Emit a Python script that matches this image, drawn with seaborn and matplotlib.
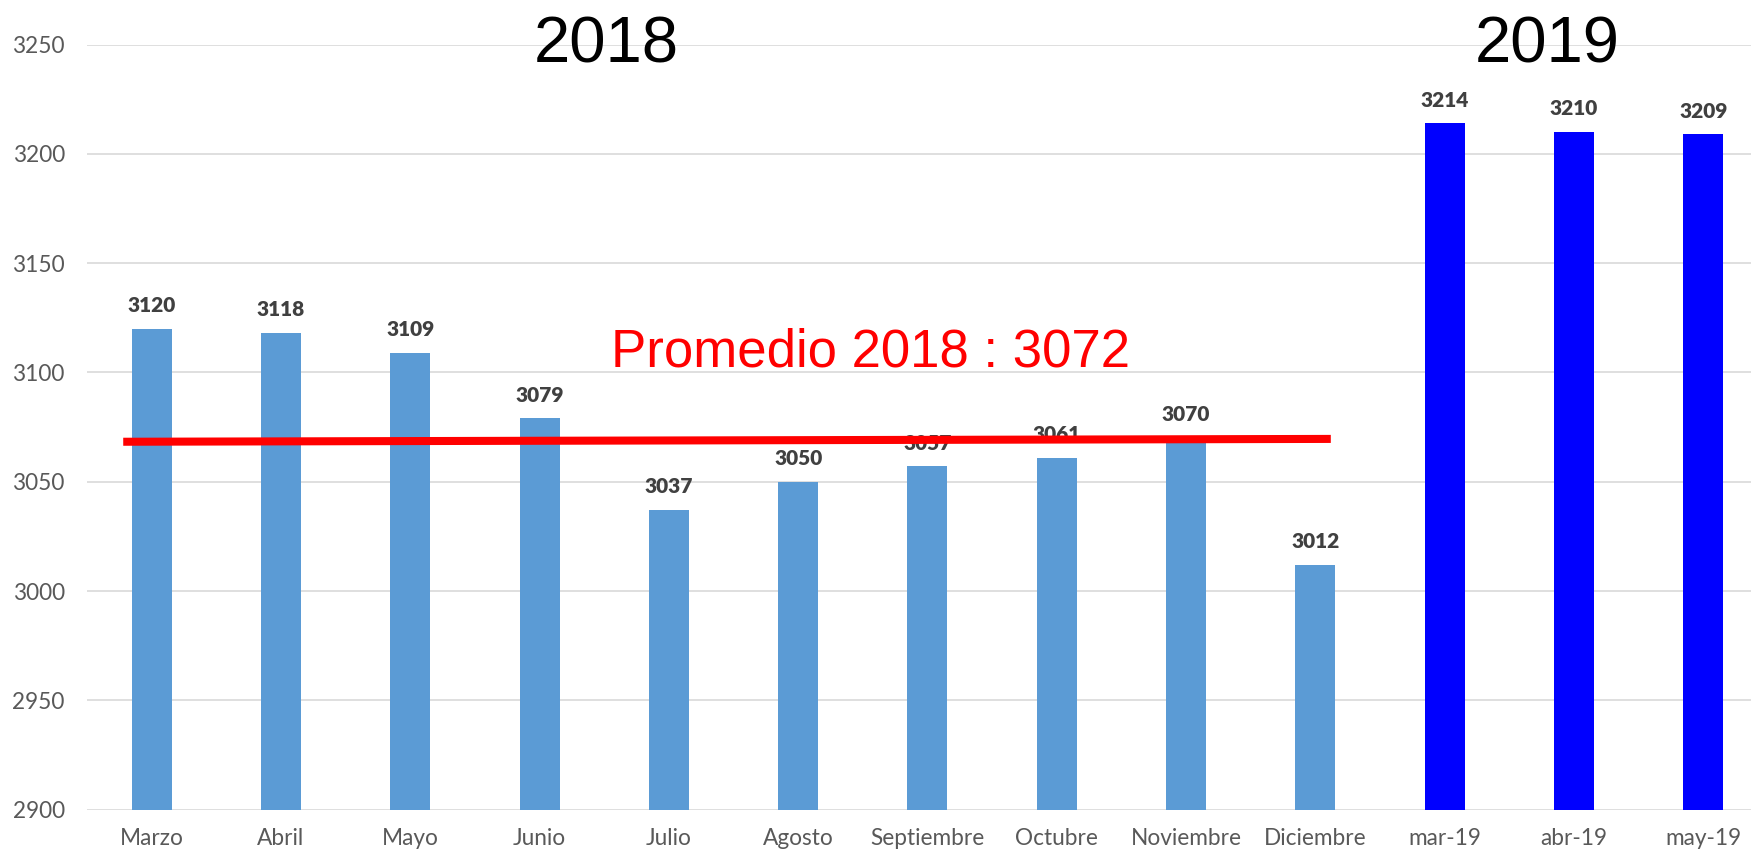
import pandas as pd
import matplotlib.pyplot as plt
import seaborn as sns

# data
meses = ["Marzo", "Abril", "Mayo", "Junio", "Julio", "Agosto", "Septiembre",
         "Octubre", "Noviembre", "Diciembre", "mar-19", "abr-19", "may-19"]
valores = [3120, 3118, 3109, 3079, 3037, 3050, 3057, 3061, 3070, 3012, 3214, 3210, 3209]
anio = ["2018"] * 10 + ["2019"] * 3
colores_anio = {"2018": "#5B9BD5", "2019": "#0000FF"}

# average line as drawn in the original (slightly sloped, hand placed)
promedio_x = [-0.22, 9.12]
promedio_y = [3068.3, 3069.6]
promedio_txt = "Promedio 2018 : 3072"

df = pd.DataFrame({"mes": meses, "valor": valores, "anio": anio})

sns.set_style("white")
plt.rcParams["font.family"] = ["Lato", "DejaVu Sans"]

fig = plt.figure(figsize=(17.51, 8.52), dpi=100)
ax = fig.add_axes([0.0497, 0.0498, 0.9503, 0.8978])

sns.barplot(data=df, x="mes", y="valor", hue="anio", palette=colores_anio,
            saturation=1, dodge=False, width=0.31, linewidth=0, legend=False,
            ax=ax, zorder=2)

ax.set_ylim(2900, 3250)
ax.set_xlim(-0.5, 12.37)
ax.set_yticks(range(2900, 3251, 50))
ax.set_xlabel("")
ax.set_ylabel("")
ax.grid(axis="y", color="#D9D9D9", linewidth=1.2, zorder=0)
ax.set_axisbelow(True)
for s in ax.spines.values():
    s.set_visible(False)
ax.tick_params(axis="both", length=0, labelsize=16.3, colors="#595959")
ax.tick_params(axis="y", pad=16)
ax.tick_params(axis="x", pad=13)

# value labels
for i, v in enumerate(valores):
    ax.annotate(str(v), (i, v), xytext=(0, 12), textcoords="offset points",
                ha="center", va="baseline", fontsize=15, fontweight="heavy",
                color="#404040", zorder=3)

# average line
ax.plot(promedio_x, promedio_y, color="#FF0000", linewidth=5.8,
        solid_capstyle="butt", zorder=4)

fig.text(0.4969, 0.5696, promedio_txt, ha="center", va="baseline",
         fontsize=38, color="#FF0000", family="Liberation Sans")
fig.text(0.346, 0.927, "2018", ha="center", va="baseline",
         fontsize=47, color="black", family="Liberation Sans")
fig.text(0.8835, 0.927, "2019", ha="center", va="baseline",
         fontsize=47, color="black", family="Liberation Sans")

plt.savefig("out.png", dpi=100)
